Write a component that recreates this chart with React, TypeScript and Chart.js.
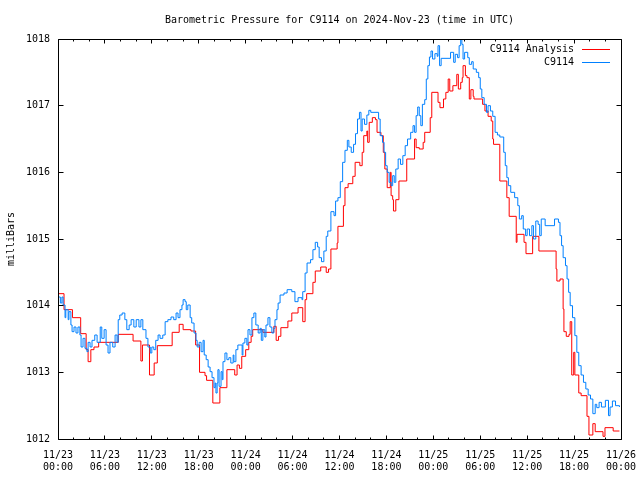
import React, { useEffect, useRef } from 'react';
import { Chart, registerables } from 'chart.js';

Chart.register(...registerables);

const TITLE = 'Barometric Pressure for C9114 on 2024-Nov-23 (time in UTC)';
const Y_TITLE = 'milliBars';
const SERIES_NAMES = ['C9114 Analysis', 'C9114'];
const SERIES_COLORS = ['#ff0000', '#0080ff'];

// x-axis: hours since 2024-11-23 00:00 UTC
const tickDates = ['11/23', '11/23', '11/23', '11/23', '11/24', '11/24', '11/24', '11/24', '11/25', '11/25', '11/25', '11/25', '11/26'];
const tickTimes = ['00:00', '06:00', '12:00', '18:00', '00:00', '06:00', '12:00', '18:00', '00:00', '06:00', '12:00', '18:00', '00:00'];

const analysisHours = [
  0, 0.77, 1.85, 2.9, 3.6, 3.85, 4.2, 4.6, 5.2, 7.7, 9.6, 10.6, 10.8, 11.7, 12.3, 12.7, 14.6, 15.5, 16.0, 17.0,
  17.6, 18.1, 18.8, 19.0, 19.8, 20.7, 21.6, 22.6, 22.9, 23.2, 23.5, 24.0, 24.4, 24.7, 24.9, 26.2, 27.6, 27.9, 28.2, 28.5,
  29.4, 29.9, 30.7, 31.3, 31.6, 31.8, 32.6, 32.9, 33.6, 34.3, 34.6, 34.9, 35.7, 35.8, 36.5, 36.7, 37.1, 37.7, 38.0, 38.6,
  38.9, 39.1, 39.5, 39.6, 39.8, 40.2, 40.6, 40.8, 41.3, 41.6, 41.8, 42.1, 42.5, 42.6, 42.8, 42.9, 43.2, 43.6, 44.6, 45.6,
  45.8, 46.2, 46.7, 46.9, 47.6, 47.8, 48.6, 48.85, 49.3, 49.6, 49.9, 50.1, 50.5, 51.0, 51.2, 51.5, 51.7, 51.8, 52.1, 52.3,
  52.6, 52.8, 53.1, 53.2, 54.3, 54.6, 55.0, 55.4, 55.6, 55.7, 56.5, 57.4, 57.7, 58.6, 58.7, 59.6, 59.85, 60.7, 61.5, 63.7,
  63.8, 64.2, 64.6, 64.7, 65.0, 65.35, 65.5, 65.7, 65.95, 66.1, 66.6, 66.9, 67.65, 67.9, 68.4, 68.7, 69.7, 69.95, 71.0, 71.8,
];
const analysisValues = [
  1014.18, 1013.94, 1013.82, 1013.58, 1013.34, 1013.16, 1013.34, 1013.38, 1013.45, 1013.57, 1013.47, 1013.17, 1013.41, 1012.96, 1013.14, 1013.40, 1013.60, 1013.72, 1013.64, 1013.62,
  1013.41, 1013.00, 1012.95, 1012.88, 1012.54, 1012.77, 1013.04, 1012.96, 1013.11, 1013.06, 1013.24, 1013.34, 1013.45, 1013.54, 1013.64, 1013.60, 1013.69, 1013.48, 1013.54, 1013.67,
  1013.77, 1013.89, 1013.97, 1013.76, 1014.09, 1014.18, 1014.35, 1014.52, 1014.58, 1014.50, 1014.55, 1014.85, 1014.94, 1015.19, 1015.50, 1015.77, 1015.83, 1015.94, 1016.15, 1016.10,
  1016.30, 1016.55, 1016.62, 1016.45, 1016.75, 1016.82, 1016.79, 1016.60, 1016.55, 1016.30, 1016.05, 1015.77, 1016.00, 1015.65, 1015.59, 1015.42, 1015.59, 1015.87, 1016.20, 1016.50,
  1016.37, 1016.35, 1016.45, 1016.60, 1016.82, 1017.20, 1017.05, 1016.97, 1017.10, 1017.20, 1017.40, 1017.22, 1017.30, 1017.47, 1017.25, 1017.35, 1017.42, 1017.60, 1017.45, 1017.42,
  1017.10, 1017.24, 1017.14, 1017.10, 1017.02, 1016.92, 1016.84, 1016.77, 1016.50, 1016.42, 1015.87, 1015.62, 1015.34, 1014.95, 1015.07, 1014.95, 1014.78, 1015.04, 1014.82, 1014.55,
  1014.37, 1014.40, 1013.95, 1013.61, 1013.54, 1013.57, 1013.76, 1012.96, 1013.30, 1012.96, 1012.69, 1012.65, 1012.34, 1012.06, 1012.23, 1012.11, 1012.04, 1012.17, 1012.12, 1012.12,
];

const stationHours = [
  0, 0.3, 0.5, 0.65, 0.9, 1.0, 1.3, 1.4, 1.65, 1.8, 2.05, 2.3, 2.55, 2.8, 2.95, 3.2, 3.45, 3.7, 3.85, 4.1,
  4.35, 4.7, 5.0, 5.4, 5.6, 5.9, 6.15, 6.4, 6.65, 7.0, 7.3, 7.55, 7.7, 7.9, 8.2, 8.55, 8.8, 9.1, 9.35, 9.7,
  10.0, 10.35, 10.6, 10.85, 11.25, 11.5, 11.8, 12.0, 12.25, 12.5, 12.8, 13.05, 13.4, 13.7, 14.05, 14.45, 14.8, 15.1, 15.35, 15.6,
  15.85, 16.0, 16.25, 16.4, 16.6, 16.9, 17.1, 17.4, 17.65, 17.8, 18.05, 18.3, 18.55, 18.7, 18.95, 19.2, 19.45, 19.7, 19.95, 20.1,
  20.2, 20.35, 20.45, 20.6, 20.85, 21.0, 21.1, 21.35, 21.6, 21.85, 22.1, 22.4, 22.5, 22.75, 23.0, 23.55, 23.65, 23.9, 24.15, 24.3,
  24.55, 24.8, 25.05, 25.3, 25.6, 25.85, 26.0, 26.2, 26.45, 26.6, 26.85, 27.1, 27.35, 27.6, 27.75, 28.0, 28.15, 28.4, 28.9, 29.3,
  29.9, 30.3, 30.7, 31.2, 31.3, 31.6, 31.85, 32.3, 32.6, 32.9, 33.2, 33.4, 33.7, 34.0, 34.3, 34.5, 34.9, 35.3, 35.5, 35.8,
  36.1, 36.4, 36.7, 37.0, 37.2, 37.5, 37.8, 38.05, 38.3, 38.55, 38.75, 38.9, 39.2, 39.5, 39.75, 40.0, 41.0, 41.2, 41.5, 41.7,
  41.9, 42.1, 42.35, 42.6, 42.8, 43.0, 43.2, 43.5, 43.8, 44.1, 44.4, 44.7, 45.1, 45.4, 45.6, 45.8, 46.0, 46.2, 46.4, 46.6,
  46.9, 47.1, 47.3, 47.5, 47.7, 47.9, 48.2, 48.5, 48.6, 48.8, 49.0, 50.2, 50.6, 50.8, 51.1, 51.3, 51.5, 51.65, 51.8, 52.0,
  52.4, 52.6, 52.9, 53.1, 53.5, 53.8, 54.0, 54.2, 54.5, 54.8, 55.0, 55.3, 55.6, 55.9, 56.2, 56.5, 57.0, 57.2, 57.4, 57.6,
  57.9, 58.4, 58.8, 59.0, 59.3, 59.5, 59.8, 60.0, 60.3, 60.6, 60.8, 61.1, 61.4, 61.6, 61.8, 62.3, 63.5, 64.0, 64.2, 64.4,
  64.6, 64.9, 65.1, 65.3, 65.5, 65.8, 66.1, 66.35, 66.6, 66.9, 67.2, 67.5, 67.8, 68.1, 68.4, 68.7, 68.9, 69.2, 69.5, 70.0,
  70.4, 70.6, 70.9, 71.3, 71.8,
];
const stationValues = [
  1014.13, 1014.04, 1014.13, 1014.01, 1013.82, 1013.94, 1013.79, 1013.91, 1013.71, 1013.61, 1013.68, 1013.59, 1013.68, 1013.56, 1013.38, 1013.51, 1013.36, 1013.31, 1013.45, 1013.38,
  1013.48, 1013.56, 1013.45, 1013.68, 1013.51, 1013.64, 1013.41, 1013.29, 1013.45, 1013.38, 1013.56, 1013.45, 1013.79, 1013.86, 1013.89, 1013.79, 1013.64, 1013.71, 1013.79, 1013.68,
  1013.79, 1013.68, 1013.79, 1013.64, 1013.51, 1013.38, 1013.29, 1013.38, 1013.34, 1013.48, 1013.56, 1013.51, 1013.56, 1013.76, 1013.79, 1013.83, 1013.79, 1013.89, 1013.82, 1013.94,
  1014.01, 1014.09, 1014.06, 1013.94, 1014.01, 1013.82, 1013.74, 1013.59, 1013.48, 1013.38, 1013.45, 1013.31, 1013.48, 1013.26, 1013.19, 1013.08, 1013.01, 1012.92, 1012.77, 1012.84,
  1012.69, 1012.84, 1013.04, 1012.79, 1013.01, 1012.89, 1013.16, 1013.29, 1013.19, 1013.22, 1013.14, 1013.26, 1013.16, 1013.34, 1013.41, 1013.26, 1013.44, 1013.51, 1013.41, 1013.64,
  1013.56, 1013.82, 1013.89, 1013.71, 1013.59, 1013.66, 1013.48, 1013.64, 1013.53, 1013.71, 1013.82, 1013.68, 1013.59, 1013.66, 1013.79, 1013.94, 1014.04, 1014.16, 1014.19, 1014.24,
  1014.21, 1014.06, 1014.12, 1014.09, 1014.21, 1014.49, 1014.64, 1014.69, 1014.84, 1014.95, 1014.88, 1014.72, 1014.66, 1014.82, 1015.04, 1015.12, 1015.41, 1015.35, 1015.57, 1015.62,
  1015.86, 1016.15, 1016.33, 1016.48, 1016.38, 1016.30, 1016.42, 1016.58, 1016.80, 1016.90, 1016.62, 1016.80, 1016.72, 1016.86, 1016.93, 1016.90, 1016.80, 1016.55, 1016.45, 1016.30,
  1016.10, 1016.00, 1015.85, 1015.80, 1015.95, 1015.85, 1016.05, 1016.20, 1016.12, 1016.25, 1016.40, 1016.50, 1016.60, 1016.70, 1016.60, 1016.85, 1016.98, 1016.85, 1016.70, 1017.02,
  1017.09, 1017.40, 1017.60, 1017.73, 1017.82, 1017.70, 1017.78, 1017.74, 1017.90, 1017.60, 1017.71, 1017.80, 1017.65, 1017.77, 1017.72, 1017.90, 1018.00, 1017.92, 1017.70, 1017.80,
  1017.72, 1017.62, 1017.66, 1017.55, 1017.50, 1017.42, 1017.25, 1017.12, 1017.02, 1016.90, 1017.00, 1016.92, 1016.84, 1016.60, 1016.56, 1016.53, 1016.30, 1016.10, 1015.92, 1015.80,
  1015.70, 1015.62, 1015.50, 1015.30, 1015.35, 1015.15, 1015.05, 1015.15, 1015.05, 1015.20, 1015.00, 1015.27, 1015.22, 1015.05, 1015.30, 1015.20, 1015.30, 1015.25, 1015.05, 1014.90,
  1014.72, 1014.60, 1014.40, 1014.20, 1014.00, 1013.82, 1013.55, 1013.30, 1013.10, 1012.96, 1012.85, 1012.75, 1012.66, 1012.60, 1012.38, 1012.52, 1012.47, 1012.55, 1012.48, 1012.58,
  1012.35, 1012.48, 1012.57, 1012.50, 1012.48,
];

const FONT = '"DejaVu Sans Mono", "Liberation Mono", monospace';

const gnuplotDecor = {
  id: 'gnuplotDecor',
  afterDraw(chart: any) {
    const { ctx, chartArea: a, scales } = chart;
    const xs = scales.x;
    const ys = scales.y;
    const L = Math.floor(a.left) + 0.5;
    const R = Math.floor(a.right) + 0.5;
    const T = Math.floor(a.top) + 0.5;
    const B = Math.floor(a.bottom) + 0.5;
    ctx.save();
    ctx.strokeStyle = '#000';
    ctx.lineWidth = 1;
    ctx.beginPath();
    ctx.rect(L, T, R - L, B - T);
    xs.ticks.forEach((t: any) => {
      const px = Math.floor(xs.getPixelForValue(t.value)) + 0.5;
      const len = t.value % 6 === 0 ? 4 : 2;
      ctx.moveTo(px, B);
      ctx.lineTo(px, B - len);
      ctx.moveTo(px, T);
      ctx.lineTo(px, T + len);
    });
    ys.ticks.forEach((t: any) => {
      const py = Math.floor(ys.getPixelForValue(t.value)) + 0.5;
      ctx.moveTo(L, py);
      ctx.lineTo(L + 5, py);
      ctx.moveTo(R, py);
      ctx.lineTo(R - 5, py);
    });
    ctx.stroke();

    ctx.fillStyle = '#000';
    ctx.font = `10px ${FONT}`;
    ctx.textBaseline = 'middle';
    ctx.textAlign = 'center';
    ctx.fillText(TITLE, (a.left + a.right) / 2, 20);

    ctx.save();
    ctx.translate(11, (a.top + a.bottom) / 2);
    ctx.rotate(-Math.PI / 2);
    ctx.fillText(Y_TITLE, 0, 0);
    ctx.restore();

    ctx.textAlign = 'right';
    SERIES_NAMES.forEach((name, i) => {
      const y = a.top + 10 + i * 13;
      ctx.fillText(name, a.right - 47, y + 0.5);
      ctx.strokeStyle = SERIES_COLORS[i];
      ctx.beginPath();
      ctx.moveTo(a.right - 39, Math.floor(y) + 0.5);
      ctx.lineTo(a.right - 11, Math.floor(y) + 0.5);
      ctx.stroke();
    });
    ctx.restore();
  },
};

export default function App() {
  const ref = useRef<HTMLCanvasElement | null>(null);

  useEffect(() => {
    document.body.style.margin = '0';
    const canvas = ref.current;
    if (!canvas) return;
    const analysis = analysisHours.map((h, i) => ({ x: h, y: analysisValues[i] }));
    const station = stationHours.map((h, i) => ({ x: h, y: stationValues[i] }));

    const chart = new Chart(canvas, {
      type: 'line',
      data: {
        datasets: [
          {
            label: SERIES_NAMES[0],
            data: analysis,
            borderColor: SERIES_COLORS[0],
            borderWidth: 1,
            pointRadius: 0,
            stepped: 'before',
            fill: false,
            order: 1,
          },
          {
            label: SERIES_NAMES[1],
            data: station,
            borderColor: SERIES_COLORS[1],
            borderWidth: 1,
            pointRadius: 0,
            stepped: 'before',
            fill: false,
            order: 0,
          },
        ],
      },
      options: {
        responsive: false,
        animation: false,
        devicePixelRatio: 1,
        layout: { padding: { top: 39, right: 19, left: 0, bottom: 0 } },
        plugins: {
          legend: { display: false },
          title: { display: false },
          tooltip: { enabled: false },
        },
        scales: {
          x: {
            type: 'linear',
            min: 0,
            max: 72,
            grid: { display: false },
            border: { display: false },
            afterFit: (scale: any) => {
              scale.height = 41;
            },
            ticks: {
              stepSize: 2,
              autoSkip: false,
              maxRotation: 0,
              minRotation: 0,
              padding: 2,
              color: '#000',
              font: { family: FONT, size: 10, lineHeight: 1.2 },
              callback: (value: any) => {
                const v = Number(value);
                if (v % 6 !== 0) return '';
                const i = v / 6;
                return [tickDates[i], tickTimes[i]];
              },
            },
          },
          y: {
            type: 'linear',
            min: 1012,
            max: 1018,
            grid: { display: false },
            border: { display: false },
            afterFit: (scale: any) => {
              scale.width = 58;
            },
            ticks: {
              stepSize: 1,
              padding: 0,
              color: '#000',
              font: { family: FONT, size: 10 },
              callback: (value: any) => String(value),
            },
          },
        },
      },
      plugins: [gnuplotDecor],
    });
    return () => chart.destroy();
  }, []);

  return (
    <div style={{ width: 640, height: 480, background: '#fff' }}>
      <canvas ref={ref} width={640} height={480} style={{ display: 'block' }} />
    </div>
  );
}
